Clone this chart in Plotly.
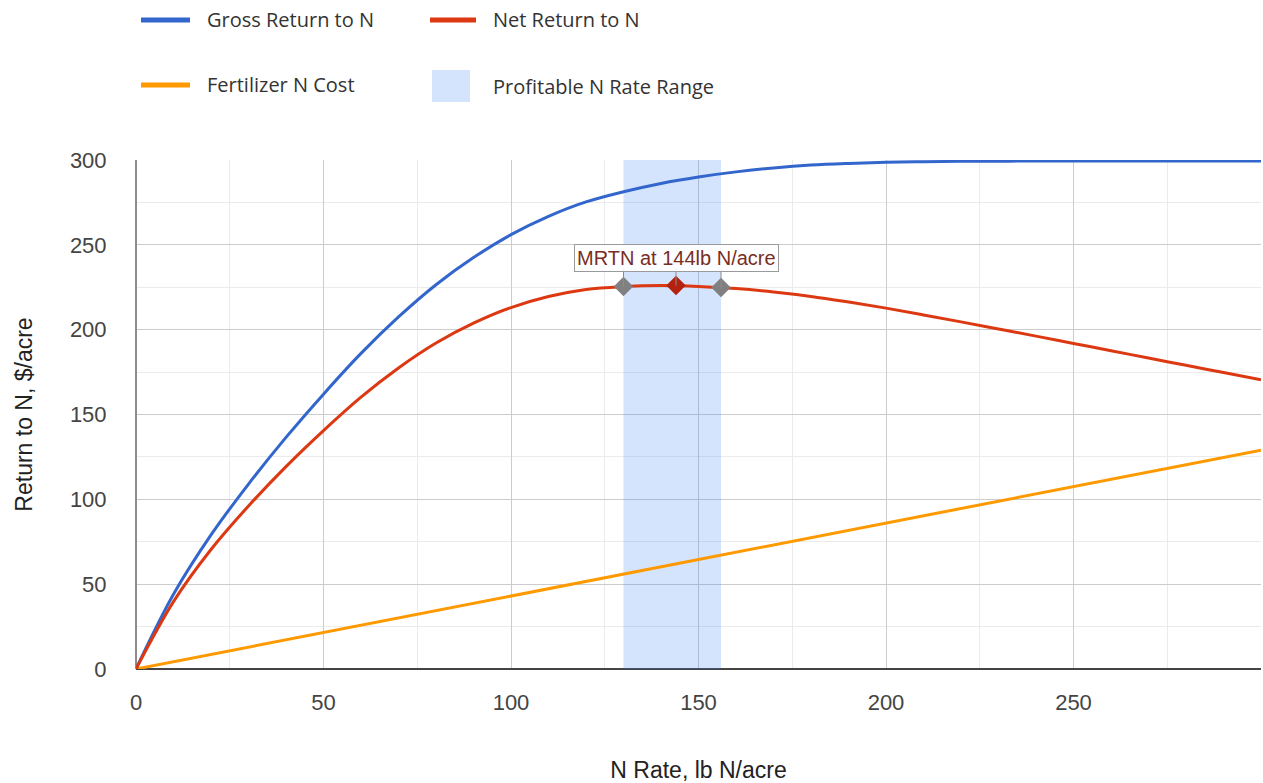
import plotly.graph_objects as go

# ---- data ----
n_rate = [0, 10, 20, 30, 40, 50, 60, 70, 80, 90, 100, 110, 120, 130, 140, 150,
          160, 170, 180, 190, 200, 210, 220, 230, 240, 250, 260, 270, 280, 290, 300]
gross_return = [0, 44, 79, 109, 136.5, 162, 186, 207.5, 226.5, 242.5, 256, 266.8,
                275.3, 281.3, 286.2, 290, 293, 295.3, 297, 298, 298.7, 299.0,
                299.2, 299.3, 299.4, 299.4, 299.4, 299.4, 299.4, 299.4, 299.4]
net_return = [0, 39.7, 70.4, 96.1, 119.3, 140.5, 160.2, 177.4, 192.1, 203.8, 213,
              219.5, 223.7, 225.4, 226.0, 225.5, 224.2, 222.2, 219.6, 216.3, 212.7,
              208.7, 204.6, 200.4, 196.2, 191.9, 187.6, 183.3, 179.0, 174.7, 170.4]
fert_cost = [0, 4.3, 8.6, 12.9, 17.2, 21.5, 25.8, 30.1, 34.4, 38.7, 43.0, 47.3,
             51.6, 55.9, 60.2, 64.5, 68.8, 73.1, 77.4, 81.7, 86.0, 90.3, 94.6,
             98.9, 103.2, 107.5, 111.8, 116.1, 120.4, 124.7, 129.0]

range_low = 130
range_high = 156
mrtn = 144
marker_x = [range_low, mrtn, range_high]
marker_y = [225.4, 226.0, 224.8]
marker_colors = ["#808080", "#b3220f", "#808080"]
label_y = 242.5
label_bottom = 236.3
mrtn_label = f"MRTN at {mrtn}lb N/acre"

x_ticks = [0, 50, 100, 150, 200, 250]
y_ticks = [0, 50, 100, 150, 200, 250, 300]

legend_names = ["Gross Return to N", "Net Return to N", "Fertilizer N Cost",
                "Profitable N Rate Range"]

BLUE = "#3366cc"
RED = "#dc3912"
ORANGE = "#ff9900"
SHADE = "rgba(66,133,244,0.22)"

fig = go.Figure()

# profitable range band (drawn through the axes)
fig.add_trace(go.Scatter(
    x=[range_low, range_high, range_high, range_low, range_low],
    y=[0, 0, 300, 300, 0],
    fill="toself", fillcolor=SHADE, mode="none",
    name=legend_names[3], showlegend=False, hoverinfo="skip"))

fig.add_trace(go.Scatter(x=n_rate, y=fert_cost, mode="lines",
                         line=dict(color=ORANGE, width=3), name=legend_names[2],
                         showlegend=False))
fig.add_trace(go.Scatter(x=n_rate, y=gross_return, mode="lines",
                         line=dict(color=BLUE, width=3, shape="spline", smoothing=1.0),
                         name=legend_names[0], showlegend=False))
fig.add_trace(go.Scatter(x=n_rate, y=net_return, mode="lines",
                         line=dict(color=RED, width=3, shape="spline", smoothing=1.0),
                         name=legend_names[1], showlegend=False))

# leader lines from markers to label
for xv, yv in zip(marker_x, marker_y):
    fig.add_shape(type="line", xref="x", yref="y", x0=xv, x1=xv, y0=yv, y1=label_bottom,
                  line=dict(color="#8c8c8c", width=1), layer="above")

fig.add_trace(go.Scatter(x=marker_x, y=marker_y, mode="markers",
                         marker=dict(symbol="diamond", size=15, color=marker_colors,
                                     line=dict(width=0)),
                         showlegend=False, hoverinfo="x+y"))

fig.add_annotation(x=mrtn, y=label_y, xref="x", yref="y", text=mrtn_label,
                   showarrow=False, font=dict(family="Liberation Sans", size=20, color="#7a2d1f"),
                   bgcolor="rgba(255,255,255,0.9)", bordercolor="#9a9a9a", borderwidth=1,
                   borderpad=2)

# ---- manual legend (paper coordinates) ----
def px2x(px):
    return (px - 136) / 1125

def py2y(py):
    return (669 - py) / 509

leg_font = dict(family="Open Sans", size=20, color="#333333")
line_items = [
    (BLUE, 141, 190, 20, 205, legend_names[0], 19),
    (RED, 430, 476, 20, 491, legend_names[1], 19),
    (ORANGE, 141, 190, 85, 205, legend_names[2], 84),
]
for color, x0, x1, yy, tx, name, ty in line_items:
    fig.add_shape(type="line", xref="paper", yref="paper",
                  x0=px2x(x0), x1=px2x(x1), y0=py2y(yy), y1=py2y(yy),
                  line=dict(color=color, width=5))
    fig.add_annotation(xref="paper", yref="paper", x=px2x(tx), y=py2y(ty), text=name,
                       showarrow=False, xanchor="left", yanchor="middle", font=leg_font)
fig.add_shape(type="rect", xref="paper", yref="paper",
              x0=px2x(432), x1=px2x(470), y0=py2y(102), y1=py2y(70),
              fillcolor=SHADE, line=dict(width=0))
fig.add_annotation(xref="paper", yref="paper", x=px2x(491), y=py2y(87), text=legend_names[3],
                   showarrow=False, xanchor="left", yanchor="middle", font=leg_font)

axis_font = dict(family="Liberation Sans", size=22, color="#444444")
title_font = dict(family="Liberation Sans", size=23, color="#222222")

fig.update_xaxes(range=[0, 300], tickmode="array", tickvals=x_ticks,
                 showgrid=True, gridcolor="#cccccc", gridwidth=1,
                 minor=dict(tickmode="linear", tick0=0, dtick=25, showgrid=True,
                            gridcolor="#ebebeb", ticklen=0),
                 zeroline=True, zerolinecolor="#8c8c8c", zerolinewidth=2,
                 ticks="outside", ticklen=14, tickcolor="rgba(0,0,0,0)",
                 tickfont=axis_font,
                 title=dict(text="N Rate, lb N/acre", font=title_font, standoff=48),
                 showline=False, fixedrange=True)
fig.update_yaxes(range=[0, 300], tickmode="array", tickvals=y_ticks,
                 showgrid=True, gridcolor="#cccccc", gridwidth=1,
                 minor=dict(tickmode="linear", tick0=0, dtick=25, showgrid=True,
                            gridcolor="#ebebeb", ticklen=0),
                 zeroline=True, zerolinecolor="#444444", zerolinewidth=2,
                 ticks="outside", ticklen=24, tickcolor="rgba(0,0,0,0)",
                 tickfont=axis_font,
                 title=dict(text="Return to N, $/acre", font=title_font, standoff=30),
                 showline=False, fixedrange=True)

fig.update_layout(width=1263, height=783,
                  margin=dict(l=136, r=2, t=160, b=114),
                  plot_bgcolor="white", paper_bgcolor="white",
                  showlegend=False, hovermode="closest")

fig.write_html("out.html",
               config={"displayModeBar": False},
               post_script="document.body.style.margin='0';document.body.style.padding='0';document.body.style.overflow='hidden';")
